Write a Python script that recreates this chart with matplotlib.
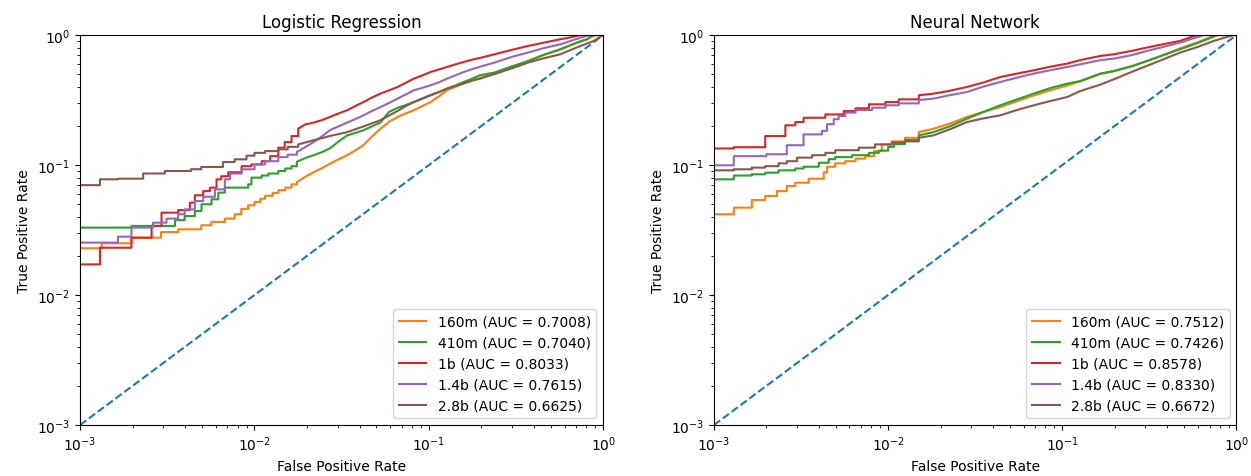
import matplotlib
matplotlib.use("Agg")
import matplotlib.pyplot as plt

labels = ["160m", "410m", "1b", "1.4b", "2.8b"]
auc_lr = [0.7008, 0.7040, 0.8033, 0.7615, 0.6625]
auc_nn = [0.7512, 0.7426, 0.8578, 0.8330, 0.6672]
colors = ["C1", "C2", "C3", "C4", "C5"]

# ---- Logistic Regression ROC readings (fpr, tpr) ----
lr_160m_fpr = [1e-3, 1.33e-3, 1.97e-3, 2.91e-3, 3.65e-3, 4.95e-3, 5.65e-3, 6.76e-3, 7.7e-3, 8.4e-3, 9.2e-3, 1.0e-2,
               1.08e-2, 1.15e-2, 1.27e-2, 1.37e-2, 1.5e-2, 1.63e-2, 1.75e-2, 1.95e-2, 2.18e-2, 2.45e-2, 2.7e-2, 3.0e-2,
               3.4e-2, 3.8e-2, 4.21e-2, 4.7e-2, 5.27e-2, 5.9e-2, 6.6e-2, 7.4e-2, 8.2e-2, 9.2e-2, 0.102, 0.115, 0.127,
               0.142, 0.158, 0.176, 0.196, 0.237, 0.3, 0.369, 0.45, 0.565, 0.7, 0.81, 0.9, 1.0]
lr_160m_tpr = [0.0229, 0.025, 0.0276, 0.0305, 0.032, 0.0344, 0.0365, 0.0387, 0.0418, 0.046, 0.049, 0.052,
               0.055, 0.058, 0.061, 0.064, 0.067, 0.071, 0.074, 0.081, 0.088, 0.095, 0.102, 0.11,
               0.119, 0.13, 0.142, 0.165, 0.19, 0.215, 0.234, 0.25, 0.264, 0.285, 0.305, 0.34, 0.376,
               0.40, 0.423, 0.445, 0.467, 0.51, 0.57, 0.625, 0.70, 0.775, 0.87, 0.93, 1.0, 1.0]

lr_410m_fpr = [1e-3, 1.97e-3, 3.5e-3, 3.98e-3, 4.55e-3, 4.97e-3, 5.67e-3, 6.2e-3, 6.76e-3, 9.2e-3, 9.6e-3, 1.1e-2,
               1.2e-2, 1.37e-2, 1.5e-2, 1.63e-2, 1.75e-2, 1.95e-2, 2.18e-2, 2.45e-2, 2.7e-2, 3.0e-2, 3.4e-2, 3.8e-2,
               4.21e-2, 4.7e-2, 5.27e-2, 5.9e-2, 6.6e-2, 7.4e-2, 8.2e-2, 9.2e-2, 0.102, 0.115, 0.127, 0.142, 0.158,
               0.176, 0.196, 0.237, 0.3, 0.369, 0.45, 0.565, 0.7, 0.81, 0.86, 1.0]
lr_410m_tpr = [0.033, 0.034, 0.0377, 0.0405, 0.0443, 0.0499, 0.0545, 0.0613, 0.067, 0.071, 0.080, 0.083,
               0.086, 0.09, 0.094, 0.098, 0.106, 0.113, 0.119, 0.126, 0.134, 0.15, 0.169, 0.177,
               0.185, 0.198, 0.212, 0.256, 0.275, 0.29, 0.305, 0.325, 0.343, 0.365, 0.387, 0.41, 0.435,
               0.46, 0.49, 0.514, 0.575, 0.63, 0.70, 0.776, 0.87, 0.93, 1.0, 1.0]

lr_1b_fpr = [1e-3, 1.3e-3, 1.97e-3, 2.57e-3, 2.93e-3, 3.65e-3, 4.26e-3, 4.55e-3, 5.08e-3, 5.55e-3, 6.06e-3, 6.45e-3,
             7.07e-3, 8.43e-3, 9.6e-3, 1.1e-2, 1.23e-2, 1.37e-2, 1.49e-2, 1.63e-2, 1.78e-2, 1.95e-2, 2.18e-2, 2.45e-2,
             2.7e-2, 3.0e-2, 3.4e-2, 3.8e-2, 4.21e-2, 4.7e-2, 5.27e-2, 5.9e-2, 6.6e-2, 7.4e-2, 8.2e-2, 9.2e-2, 0.102,
             0.115, 0.127, 0.142, 0.158, 0.176, 0.196, 0.237, 0.3, 0.369, 0.45, 0.565, 0.65, 0.74, 1.0]
lr_1b_tpr = [0.0172, 0.0231, 0.0276, 0.034, 0.043, 0.045, 0.0513, 0.0585, 0.063, 0.067, 0.0776, 0.082,
             0.088, 0.098, 0.101, 0.107, 0.117, 0.136, 0.150, 0.167, 0.19, 0.205, 0.212, 0.222,
             0.234, 0.248, 0.264, 0.285, 0.305, 0.33, 0.354, 0.375, 0.398, 0.43, 0.462, 0.49, 0.519,
             0.545, 0.568, 0.595, 0.62, 0.645, 0.666, 0.71, 0.77, 0.823, 0.87, 0.927, 0.96, 1.0, 1.0]

lr_14b_fpr = [1e-3, 1.65e-3, 1.97e-3, 2.62e-3, 3.13e-3, 3.65e-3, 3.98e-3, 4.55e-3, 5.08e-3, 5.93e-3, 6.76e-3, 7.24e-3,
              8.43e-3, 1.0e-2, 1.15e-2, 1.37e-2, 1.55e-2, 1.75e-2, 1.95e-2, 2.18e-2, 2.45e-2, 2.7e-2, 3.0e-2, 3.4e-2,
              3.8e-2, 4.21e-2, 4.7e-2, 5.27e-2, 5.9e-2, 6.6e-2, 7.4e-2, 8.2e-2, 9.2e-2, 0.102, 0.115, 0.127, 0.142,
              0.158, 0.176, 0.196, 0.237, 0.3, 0.369, 0.45, 0.565, 0.7, 0.83, 1.0]
lr_14b_tpr = [0.0253, 0.0281, 0.033, 0.036, 0.0387, 0.0418, 0.0456, 0.0528, 0.057, 0.065, 0.0776, 0.086,
              0.0927, 0.101, 0.107, 0.115, 0.12, 0.126, 0.137, 0.150, 0.167, 0.185, 0.197, 0.212,
              0.226, 0.241, 0.26, 0.279, 0.30, 0.324, 0.35, 0.376, 0.393, 0.41, 0.435, 0.462, 0.49,
              0.519, 0.545, 0.57, 0.613, 0.68, 0.732, 0.79, 0.848, 0.93, 1.0, 1.0]

lr_28b_fpr = [1e-3, 1.30e-3, 1.65e-3, 2.3e-3, 3.06e-3, 4.33e-3, 4.95e-3, 6.6e-3, 7.7e-3, 9.0e-3, 1.0e-2, 1.15e-2,
              1.37e-2, 1.55e-2, 1.78e-2, 2.18e-2, 2.7e-2, 3.4e-2, 4.21e-2, 5.27e-2, 5.9e-2, 6.6e-2, 7.4e-2, 8.2e-2,
              9.2e-2, 0.102, 0.115, 0.127, 0.142, 0.158, 0.176, 0.196, 0.237, 0.3, 0.369, 0.45, 0.565, 0.7, 0.88,
              0.95, 1.0]
lr_28b_tpr = [0.070, 0.0776, 0.0785, 0.086, 0.090, 0.0928, 0.0966, 0.1055, 0.1106, 0.118, 0.124, 0.128,
              0.132, 0.138, 0.144, 0.155, 0.167, 0.179, 0.198, 0.221, 0.24, 0.26, 0.285, 0.305,
              0.325, 0.345, 0.365, 0.387, 0.405, 0.425, 0.445, 0.462, 0.50, 0.555, 0.613, 0.66, 0.71, 0.80, 0.90,
              0.96, 1.0]

# ---- Neural Network ROC readings (fpr, tpr) ----
nn_160m_fpr = [1e-3, 1.3e-3, 1.65e-3, 1.97e-3, 2.3e-3, 2.62e-3, 2.93e-3, 3.5e-3, 4.27e-3, 4.46e-3, 4.97e-3, 5.67e-3,
               6.5e-3, 7.4e-3, 8.3e-3, 9.2e-3, 1.05e-2, 1.25e-2, 1.5e-2, 1.82e-2, 2.3e-2, 2.83e-2, 3.5e-2, 4.4e-2,
               5.5e-2, 6.85e-2, 8.5e-2, 0.107, 0.127, 0.165, 0.197, 0.25, 0.305, 0.38, 0.474, 0.6, 0.76, 1.0]
nn_160m_tpr = [0.0418, 0.047, 0.0538, 0.0578, 0.063, 0.0689, 0.0731, 0.0785, 0.088, 0.097, 0.103, 0.107,
               0.112, 0.117, 0.128, 0.144, 0.152, 0.162, 0.179, 0.19, 0.21, 0.234, 0.255, 0.279,
               0.31, 0.343, 0.375, 0.41, 0.44, 0.50, 0.525, 0.575, 0.63, 0.70, 0.79, 0.88, 1.0, 1.0]

nn_410m_fpr = [1e-3, 1.3e-3, 1.65e-3, 1.97e-3, 2.35e-3, 2.93e-3, 3.27e-3, 4.0e-3, 4.56e-3, 4.97e-3, 6.2e-3, 7.76e-3,
               8.85e-3, 1.0e-2, 1.08e-2, 1.25e-2, 1.5e-2, 1.82e-2, 2.3e-2, 2.83e-2, 3.5e-2, 4.4e-2, 5.5e-2, 6.85e-2,
               8.5e-2, 0.107, 0.127, 0.165, 0.197, 0.25, 0.305, 0.38, 0.474, 0.6, 0.74, 0.78, 1.0]
nn_410m_tpr = [0.0776, 0.083, 0.0848, 0.0873, 0.091, 0.094, 0.097, 0.104, 0.111, 0.115, 0.119, 0.124,
               0.129, 0.138, 0.145, 0.156, 0.169, 0.179, 0.20, 0.227, 0.255, 0.288, 0.32, 0.354,
               0.39, 0.423, 0.443, 0.505, 0.529, 0.575, 0.63, 0.70, 0.776, 0.87, 0.97, 1.0, 1.0]

nn_1b_fpr = [1e-3, 1.3e-3, 1.97e-3, 2.57e-3, 2.93e-3, 3.27e-3, 4.36e-3, 5.56e-3, 6.49e-3, 7.76e-3, 9.65e-3, 1.15e-2,
             1.5e-2, 1.82e-2, 2.2e-2, 2.83e-2, 3.5e-2, 4.4e-2, 5.5e-2, 6.85e-2, 8.5e-2, 0.107, 0.127, 0.165, 0.197,
             0.25, 0.305, 0.38, 0.474, 0.59, 1.0]
nn_1b_tpr = [0.134, 0.137, 0.167, 0.202, 0.214, 0.231, 0.245, 0.26, 0.273, 0.293, 0.305, 0.32,
             0.344, 0.354, 0.37, 0.398, 0.43, 0.475, 0.505, 0.535, 0.57, 0.603, 0.642, 0.69, 0.71,
             0.755, 0.80, 0.85, 0.90, 1.0, 1.0]

nn_14b_fpr = [1e-3, 1.3e-3, 2.0e-3, 2.62e-3, 3.27e-3, 4.17e-3, 4.46e-3, 4.87e-3, 5.2e-3, 5.67e-3, 6.5e-3, 8.1e-3,
              9.65e-3, 1.15e-2, 1.5e-2, 1.82e-2, 2.2e-2, 2.83e-2, 3.5e-2, 4.4e-2, 5.5e-2, 6.85e-2, 8.5e-2, 0.107,
              0.127, 0.165, 0.197, 0.25, 0.305, 0.38, 0.474, 0.65, 1.0]
nn_14b_tpr = [0.0995, 0.117, 0.121, 0.142, 0.172, 0.183, 0.206, 0.225, 0.238, 0.253, 0.265, 0.276,
              0.288, 0.298, 0.316, 0.324, 0.342, 0.364, 0.40, 0.435, 0.47, 0.505, 0.535, 0.568,
              0.595, 0.64, 0.658, 0.70, 0.753, 0.81, 0.874, 1.0, 1.0]

nn_28b_fpr = [1e-3, 1.3e-3, 1.65e-3, 1.97e-3, 2.35e-3, 2.62e-3, 3.0e-3, 3.66e-3, 4.36e-3, 4.97e-3, 6.78e-3, 8.4e-3,
              1.05e-2, 1.25e-2, 1.5e-2, 1.82e-2, 2.3e-2, 2.83e-2, 3.5e-2, 4.4e-2, 5.5e-2, 6.85e-2, 8.5e-2, 0.107,
              0.127, 0.165, 0.197, 0.25, 0.305, 0.38, 0.474, 0.6, 0.74, 0.96, 1.0]
nn_28b_tpr = [0.091, 0.0927, 0.0955, 0.098, 0.103, 0.107, 0.114, 0.119, 0.124, 0.130, 0.136, 0.144,
              0.149, 0.152, 0.162, 0.169, 0.19, 0.214, 0.228, 0.241, 0.265, 0.288, 0.31, 0.334,
              0.371, 0.415, 0.456, 0.52, 0.578, 0.65, 0.732, 0.81, 0.90, 1.0, 1.0]

lr_curves = [(lr_160m_fpr, lr_160m_tpr), (lr_410m_fpr, lr_410m_tpr), (lr_1b_fpr, lr_1b_tpr),
             (lr_14b_fpr, lr_14b_tpr), (lr_28b_fpr, lr_28b_tpr)]
nn_curves = [(nn_160m_fpr, nn_160m_tpr), (nn_410m_fpr, nn_410m_tpr), (nn_1b_fpr, nn_1b_tpr),
             (nn_14b_fpr, nn_14b_tpr), (nn_28b_fpr, nn_28b_tpr)]

titles = ["Logistic Regression", "Neural Network"]
diag = [1e-3, 1.0]
STEP_CUT = 1.8e-2  # below this FPR the ROC staircase is drawn with visible steps


def roc_path(fpr, tpr, cut):
    xs, ys = [fpr[0]], [tpr[0]]
    for i in range(1, len(fpr)):
        if fpr[i] <= cut:
            xs += [fpr[i], fpr[i]]
            ys += [tpr[i - 1], tpr[i]]
        else:
            xs.append(fpr[i])
            ys.append(tpr[i])
    return xs, ys


fig = plt.figure(figsize=(12.51, 4.77), dpi=100)
ax1 = fig.add_axes([0.0640, 0.1069, 0.4183, 0.8176])
ax2 = fig.add_axes([0.5707, 0.1069, 0.4177, 0.8176])

for ax, curves, aucs, title in [(ax1, lr_curves, auc_lr, titles[0]), (ax2, nn_curves, auc_nn, titles[1])]:
    ax.plot(diag, diag, linestyle="--", color="C0")
    for (fpr, tpr), lab, auc, col in zip(curves, labels, aucs, colors):
        xs, ys = roc_path(fpr, tpr, STEP_CUT)
        ax.plot(xs, ys, color=col, label=f"{lab} (AUC = {auc:.4f})")
    ax.set_xscale("log")
    ax.set_yscale("log")
    ax.set_xlim(1e-3, 1)
    ax.set_ylim(1e-3, 1)
    ax.set_xlabel("False Positive Rate")
    ax.set_ylabel("True Positive Rate")
    ax.set_title(title)
    ax.legend(loc="lower right")

fig.savefig("out.png", dpi=100)
